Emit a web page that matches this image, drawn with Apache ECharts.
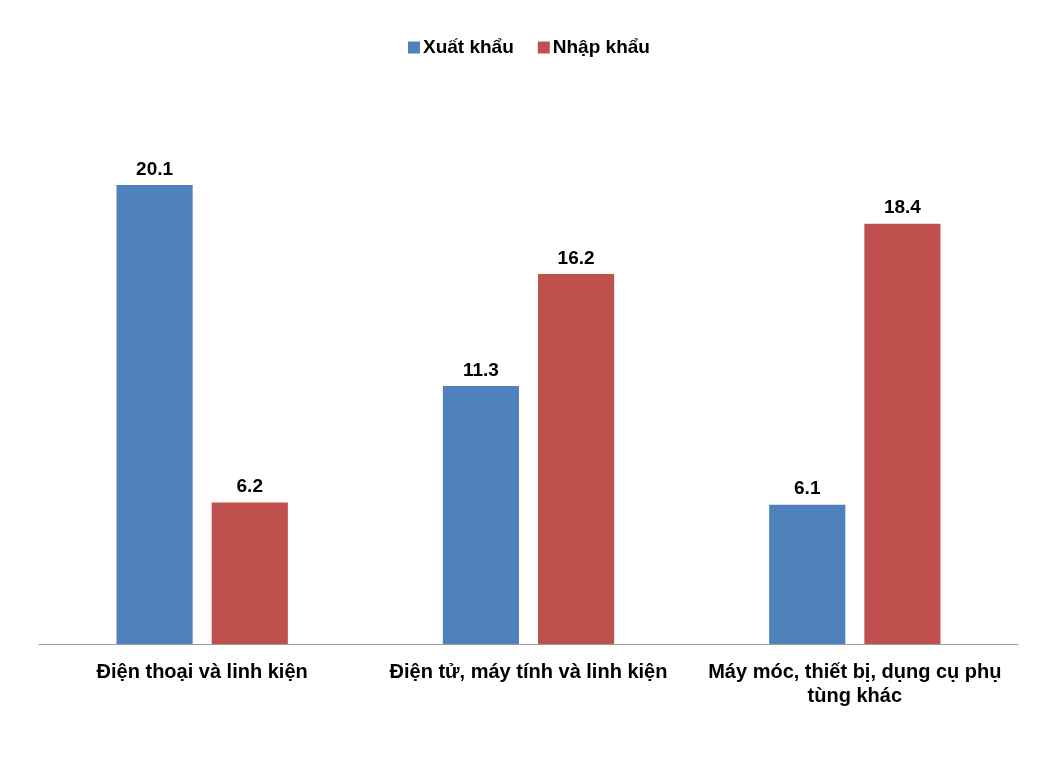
<!DOCTYPE html>
<html><head><meta charset="utf-8">
<script src="https://cdn.jsdelivr.net/npm/echarts@6/dist/echarts.min.js"></script>
<style>html,body{margin:0;padding:0;background:#fff}#c{width:1038px;height:770px}</style>
</head><body><div id="c"></div>
<script>
const categories = ["Điện thoại và linh kiện", "Điện tử, máy tính và linh kiện", "Máy móc, thiết bị, dụng cụ phụ\ntùng khác"];
const exportValues = [20.1, 11.3, 6.1];
const importValues = [6.2, 16.2, 18.4];
const seriesNames = ["Xuất khẩu", "Nhập khẩu"];

const chart = echarts.init(document.getElementById('c'));
const font = 'Liberation Sans, Arial, sans-serif';
const labelStyle = {show: true, position: 'top', fontFamily: font, fontWeight: 'bold', fontSize: 19, color: '#000', distance: 6};
chart.setOption({
  animation: false,
  legend: {
    top: 33, left: 403, itemWidth: 12, itemHeight: 12, itemGap: 24,
    textStyle: {fontFamily: font, fontWeight: 'bold', fontSize: 19, color: '#000', padding: [0, 0, 0, -2]},
    data: seriesNames.map(n => ({name: n, icon: 'rect'}))
  },
  grid: {left: 39, right: 20, top: 73, bottom: 126, containLabel: false},
  xAxis: {
    type: 'category', data: categories,
    axisLine: {lineStyle: {color: '#999', width: 1}},
    axisTick: {show: false},
    axisLabel: {fontFamily: font, fontWeight: 'bold', fontSize: 20, color: '#000', margin: 16, lineHeight: 24, interval: 0}
  },
  yAxis: {type: 'value', min: 0, max: 25, show: false, splitLine: {show: false}},
  series: [
    {name: seriesNames[0], type: 'bar', data: exportValues, itemStyle: {color: '#4F81BD'}, barGap: '25%', barCategoryGap: '47.5%', label: labelStyle},
    {name: seriesNames[1], type: 'bar', data: importValues, itemStyle: {color: '#C0504D'}, barGap: '25%', barCategoryGap: '47.5%', label: labelStyle}
  ]
});
</script></body></html>
